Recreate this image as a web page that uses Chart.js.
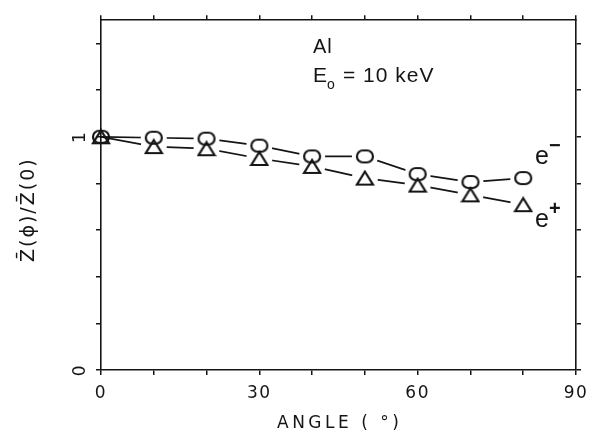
<!DOCTYPE html>
<html>
<head>
<meta charset="utf-8">
<script src="https://cdn.jsdelivr.net/npm/chart.js@4/dist/chart.umd.min.js"></script>
<style>
  html, body { margin: 0; padding: 0; background: #fff; }
  #wrap { width: 596px; height: 437px; }
</style>
</head>
<body>
<div id="wrap"><canvas id="c" width="596" height="437"></canvas></div>
<script>
// Scattering angle (degrees) and normalised mean depth for Al at 10 keV
const angles = [0, 10, 20, 30, 40, 50, 60, 70, 80];
const electronRatio = [1.000, 0.996, 0.992, 0.962, 0.916, 0.916, 0.840, 0.806, 0.823];
const positronRatio = [1.000, 0.958, 0.949, 0.907, 0.873, 0.823, 0.793, 0.751, 0.709];

// Axis ticks and the few that carry a label
const xTickValues = [0, 10, 20, 30, 40, 50, 60, 70, 80, 90];
const xTickLabels = { 0: '0', 30: '30', 60: '60', 90: '90' };
const yTickValues = [0, 0.2, 0.4, 0.6, 0.8, 1.0, 1.2, 1.4];
const yTickLabels = { 0: '0', 1: '1' };

const INK = '#151515';

function toPoints(ys) {
  return angles.map((a, i) => ({ x: a, y: ys[i] }));
}

// Open oval marker (electrons)
function ovalMarker() {
  const c = document.createElement('canvas');
  c.width = 20; c.height = 16;
  const g = c.getContext('2d');
  g.lineWidth = 2.2;
  g.strokeStyle = INK;
  g.beginPath();
  g.roundRect(2, 2, 16, 12, 6);
  g.stroke();
  return c;
}

// Open triangle marker (positrons)
function triangleMarker() {
  const c = document.createElement('canvas');
  c.width = 20; c.height = 17;
  const g = c.getContext('2d');
  g.lineWidth = 2.2;
  g.strokeStyle = INK;
  g.lineJoin = 'miter';
  g.beginPath();
  g.moveTo(10, 2);
  g.lineTo(18, 15);
  g.lineTo(2, 15);
  g.closePath();
  g.stroke();
  return c;
}

// White discs under the markers leave a gap between each line and its symbols
function haloPoints(ys) {
  return angles.map((a, i) => ({ x: a, y: a === 0 ? null : ys[i] }));
}

const tickFont = { family: 'DejaVu Sans', size: 17, weight: 'normal' };

function fixedWidth(w) { return s => { s.width = w; }; }
function fixedHeight(h) { return s => { s.height = h; }; }

const gridStyle = {
  drawOnChartArea: false,
  drawTicks: true,
  tickLength: 5,
  color: INK,
  lineWidth: 1.5
};
const borderStyle = { display: true, color: INK, width: 1.6 };

const annotations = {
  id: 'annotations',
  beforeDraw(chart) {
    chart.ctx.letterSpacing = '1.5px';
  },
  afterDraw(chart) {
    const ctx = chart.ctx;
    ctx.save();
    ctx.fillStyle = INK;
    ctx.textAlign = 'left';
    ctx.textBaseline = 'alphabetic';

    // Axis titles
    ctx.letterSpacing = '3.5px';
    ctx.font = '17px "DejaVu Sans"';
    ctx.fillText('ANGLE ( °)', 277, 428);

    ctx.save();
    ctx.letterSpacing = '2px';
    ctx.translate(34, 262);
    ctx.rotate(-Math.PI / 2);
    ctx.font = '19px "DejaVu Sans"';
    ctx.fillText('Z\u0304(\u03D5)/Z\u0304(0)', 0, 0);
    ctx.restore();

    // Material and beam energy
    ctx.letterSpacing = '1px';
    ctx.font = '20px "Liberation Sans"';
    ctx.fillText('Al', 313, 53);
    ctx.font = '21px "Liberation Sans"';
    ctx.fillText('E', 313, 82);
    ctx.font = '14px "Liberation Sans"';
    ctx.fillText('o', 327, 89);
    ctx.font = '21px "Liberation Sans"';
    ctx.fillText('= 10 keV', 343, 82);

    // Series labels
    ctx.letterSpacing = '0px';
    ctx.font = '25px "Liberation Sans"';
    ctx.fillText('e', 535, 164);
    ctx.fillText('e', 535, 227);
    ctx.font = 'bold 20px "Liberation Sans"';
    ctx.fillText('−', 549, 152);
    ctx.fillText('+', 549, 215);
    ctx.restore();
  }
};

new Chart(document.getElementById('c'), {
  type: 'scatter',
  data: {
    datasets: [
      { label: 'e− line', data: toPoints(electronRatio), showLine: true, pointRadius: 0,
        borderColor: INK, borderWidth: 1.7, order: 10 },
      { label: 'e+ line', data: toPoints(positronRatio), showLine: true, pointRadius: 0,
        borderColor: INK, borderWidth: 1.7, order: 10 },
      { label: 'e− gap', data: haloPoints(electronRatio), showLine: false, pointStyle: 'circle',
        pointRadius: 13, pointBackgroundColor: '#fff', pointBorderWidth: 0, order: 5, clip: false },
      { label: 'e+ gap', data: haloPoints(positronRatio), showLine: false, pointStyle: 'circle',
        pointRadius: 13, pointBackgroundColor: '#fff', pointBorderWidth: 0, order: 5, clip: false },
      { label: 'e−', data: toPoints(electronRatio), showLine: false, pointStyle: ovalMarker(),
        pointRadius: 8, order: 0, clip: false },
      { label: 'e+', data: toPoints(positronRatio), showLine: false, pointStyle: triangleMarker(),
        pointRadius: 8, order: 0, clip: false }
    ]
  },
  options: {
    responsive: false,
    animation: false,
    devicePixelRatio: 1,
    events: [],
    layout: { padding: 0 },
    plugins: { legend: { display: false }, tooltip: { enabled: false } },
    scales: {
      x: {
        type: 'linear', position: 'bottom', min: 0, max: 90,
        afterBuildTicks: s => { s.ticks = xTickValues.map(v => ({ value: v })); },
        afterFit: fixedHeight(67),
        grid: gridStyle, border: borderStyle,
        ticks: { color: INK, font: tickFont, padding: 8, maxRotation: 0, minRotation: 0,
                 autoSkip: false, callback: v => xTickLabels[v] ?? '' }
      },
      x2: {
        type: 'linear', position: 'top', min: 0, max: 90,
        afterBuildTicks: s => { s.ticks = xTickValues.map(v => ({ value: v })); },
        afterFit: fixedHeight(14),
        grid: gridStyle, border: borderStyle,
        ticks: { autoSkip: false, callback: () => '' }
      },
      y: {
        type: 'linear', position: 'left', min: 0, max: 1.5,
        afterBuildTicks: s => { s.ticks = yTickValues.map(v => ({ value: v })); },
        afterFit: fixedWidth(101),
        grid: gridStyle, border: borderStyle,
        ticks: { color: INK, font: tickFont, padding: 10, minRotation: 90, maxRotation: 90,
                 crossAlign: 'center', autoSkip: false, callback: v => yTickLabels[v] ?? '' }
      },
      y2: {
        type: 'linear', position: 'right', min: 0, max: 1.5,
        afterBuildTicks: s => { s.ticks = yTickValues.map(v => ({ value: v })); },
        afterFit: fixedWidth(20),
        grid: gridStyle, border: borderStyle,
        ticks: { autoSkip: false, callback: () => '' }
      }
    }
  },
  plugins: [annotations]
});
</script>
</body>
</html>
